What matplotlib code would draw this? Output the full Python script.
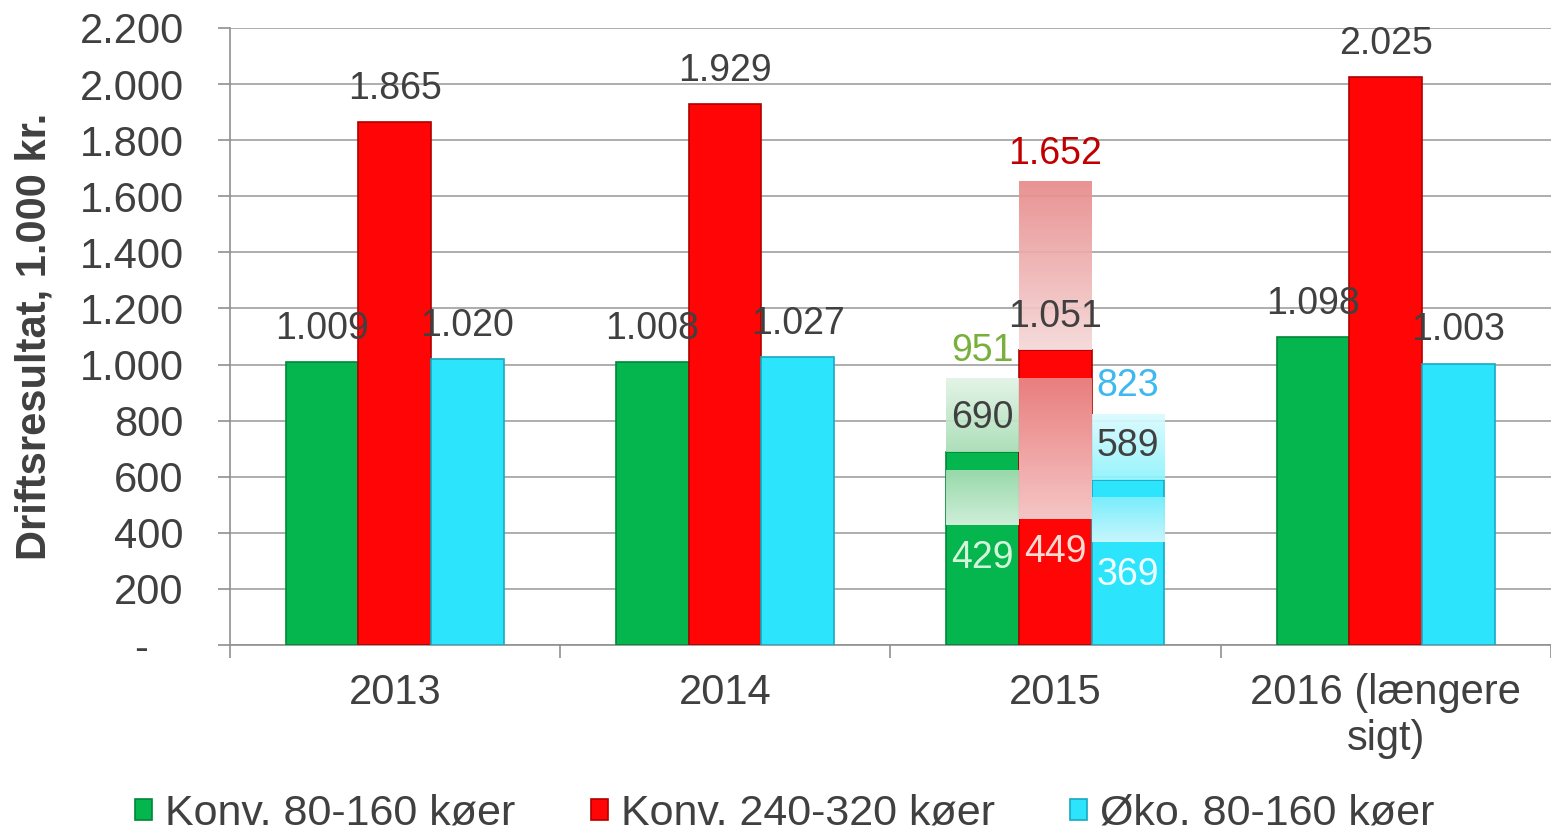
import numpy as np
import matplotlib.pyplot as plt
from matplotlib.colors import to_rgb

plt.rcParams['font.family'] = ['Liberation Sans', 'DejaVu Sans']

# Data
categories = ["2013", "2014", "2015", "2016 (længere\nsigt)"]
series = ["Konv. 80-160 køer", "Konv. 240-320 køer", "Øko. 80-160 køer"]
values = [
    [1009, 1008, 690, 1098],
    [1865, 1929, 1051, 2025],
    [1020, 1027, 589, 1003],
]
# 2015 interval (low / high) per series
range_low = [429, 449, 369]
range_high = [951, 1652, 823]
range_cat = 2

colors = ["#05B54E", "#FF0505", "#2DE4FD"]
edges = ["#00873A", "#B00000", "#1AA8C0"]
hi_label_colors = ["#77B03A", "#C00000", "#3DB8F0"]
lo_label_colors = ["#D5F5DA", "#FBDAD2", "#EFFFFF"]
# gradient boxes: (top colour, bottom colour) for upper and lower pieces
grad_upper = [("#E2F3E6", "#A6DDB3"), ("#E88A8A", "#F5D8D8"), ("#DAFBFF", "#8EF4FC")]
grad_lower = [("#A6DDB3", "#E2F4E6"), ("#E88A8A", "#F5D8D8"), ("#80F0FC", "#D6F8FC")]
gap_below_top = [66, 100, 62]

def fmt(v):
    return f"{v:,}".replace(",", ".")

fig = plt.figure(figsize=(15.51, 8.35), dpi=100)
ax = fig.add_axes([0.148, 0.2275, 0.852, 0.739])

x = np.arange(len(categories))
w = 0.22
offsets = [-w, 0, w]
text_col = "#404040"
fs = 27

for i in range(3):
    xs = x + offsets[i]
    ax.bar(xs, values[i], width=w, color=colors[i], edgecolor=edges[i], linewidth=1.2,
           zorder=3, label=series[i])
    for j, v in enumerate(values[i]):
        ax.annotate(fmt(v), (xs[j], v), xytext=(0, 24), textcoords="offset points",
                    ha="center", va="center", fontsize=fs, color=text_col, zorder=6)

# interval boxes for 2015
def grad_box(x0, x1, y_top, y_bot, c_top, c_bot):
    t = np.linspace(0, 1, 100)[:, None]
    a = np.array(to_rgb(c_top))
    b = np.array(to_rgb(c_bot))
    img = a[None, None, :] * (1 - t[..., None]) + b[None, None, :] * t[..., None]
    img = np.repeat(img, 2, axis=1)
    ax.imshow(img, extent=[x0, x1, y_bot, y_top], aspect="auto", zorder=4, alpha=0.92,
              interpolation="bilinear")

for i in range(3):
    xc = x[range_cat] + offsets[i]
    v = values[i][range_cat]
    grad_box(xc - w / 2, xc + w / 2, range_high[i], v, *grad_upper[i])
    grad_box(xc - w / 2, xc + w / 2, v - gap_below_top[i], range_low[i], *grad_lower[i])
    ax.annotate(fmt(range_high[i]), (xc, range_high[i]), xytext=(0, 20), textcoords="offset points",
                ha="center", va="center", fontsize=fs, color=hi_label_colors[i], zorder=6)
    ax.annotate(fmt(range_low[i]), (xc, range_low[i]), xytext=(0, -24), textcoords="offset points",
                ha="center", va="center", fontsize=fs, color=lo_label_colors[i], zorder=6)

ax.set_xlim(-0.5, len(categories) - 0.5)
ax.set_ylim(0, 2200)
yt = np.arange(0, 2201, 200)
ax.set_yticks(yt)
ax.set_yticklabels(["-   "] + [fmt(v) for v in yt[1:]], fontsize=30, color=text_col)
ax.set_xticks(x)
ax.set_xticklabels(categories, fontsize=30, color=text_col, linespacing=1.2)
ax.set_xticks(np.arange(-0.5, len(categories)), minor=True)
ax.tick_params(axis="x", which="major", length=0, pad=20)
ax.tick_params(axis="x", which="minor", length=9, color="#909090", width=1.2)
ax.tick_params(axis="y", length=9, color="#909090", width=1.2, pad=24)
ax.grid(axis="y", color="#A0A0A0", linewidth=1.2, zorder=0)
ax.set_axisbelow(True)
for s in ["top", "right"]:
    ax.spines[s].set_visible(False)
for s in ["left", "bottom"]:
    ax.spines[s].set_color("#909090")
    ax.spines[s].set_linewidth(1.2)

ax.set_ylabel("Driftsresultat, 1.000 kr.", fontsize=30, fontweight="bold", color=text_col, labelpad=18)

leg = fig.legend(loc="lower center", bbox_to_anchor=(0.506, -0.045), ncol=3, frameon=False,
                 fontsize=31, handlelength=0.4, handleheight=0.4, handletextpad=0.3,
                 columnspacing=1.75, labelcolor=text_col)

fig.savefig("out.png", dpi=100)
